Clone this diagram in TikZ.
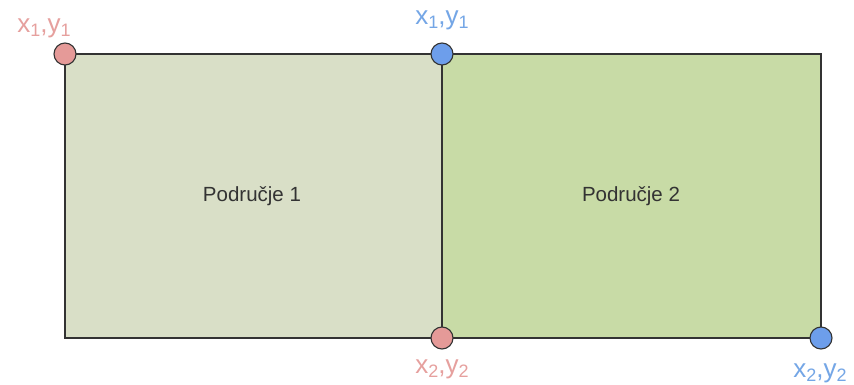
\documentclass[tikz,border=0pt]{standalone}
\usepackage{fontspec}
\setmainfont{Liberation Sans}
\definecolor{leftfill}{HTML}{D9DFC7}
\definecolor{rightfill}{HTML}{C8DBA6}
\definecolor{redpt}{HTML}{E59A98}
\definecolor{bluept}{HTML}{6D9EEB}
\definecolor{redtxt}{HTML}{E6A09E}
\definecolor{bluetxt}{HTML}{74A6E6}
\definecolor{edge}{HTML}{333333}
\newcommand{\lsub}[1]{\raisebox{-4pt}{\fontsize{18}{20}\selectfont #1}}
\tikzset{
  area/.style={draw=edge, line width=1.3pt},
  dot/.style={circle, draw=edge, line width=1.1pt, minimum size=22pt, inner sep=0pt},
  lab/.style={font=\fontsize{26}{28}\selectfont, inner sep=0pt, anchor=base},
  areatxt/.style={font=\fontsize{20.5}{24}\selectfont, text=black!80, anchor=base, inner sep=0pt}
}
\begin{document}
\begin{tikzpicture}[x=1pt,y=-1pt]
\useasboundingbox (0,0) rectangle (854,385);
\fill[white] (0,0) rectangle (854,385);
\draw[area, fill=leftfill] (65,54) rectangle (442,338);
\draw[area, fill=rightfill] (442,54) rectangle (821,338);
\node[areatxt] (a1) at (252,201) {Područje 1};
\node[areatxt] (a2) at (631,201) {Područje 2};
\node[dot, fill=redpt] (p1) at (65,54) {};
\node[dot, fill=bluept] (p2) at (442,54) {};
\node[dot, fill=redpt] (p3) at (442,338) {};
\node[dot, fill=bluept] (p4) at (821,338) {};
\node[lab, text=redtxt] (l1) at (44,33) {x\lsub{1},y\lsub{1}};
\node[lab, text=bluetxt] (l2) at (442,25) {x\lsub{1},y\lsub{1}};
\node[lab, text=redtxt] (l3) at (442,373) {x\lsub{2},y\lsub{2}};
\node[lab, text=bluetxt] (l4) at (820,377) {x\lsub{2},y\lsub{2}};
\end{tikzpicture}
\end{document}
